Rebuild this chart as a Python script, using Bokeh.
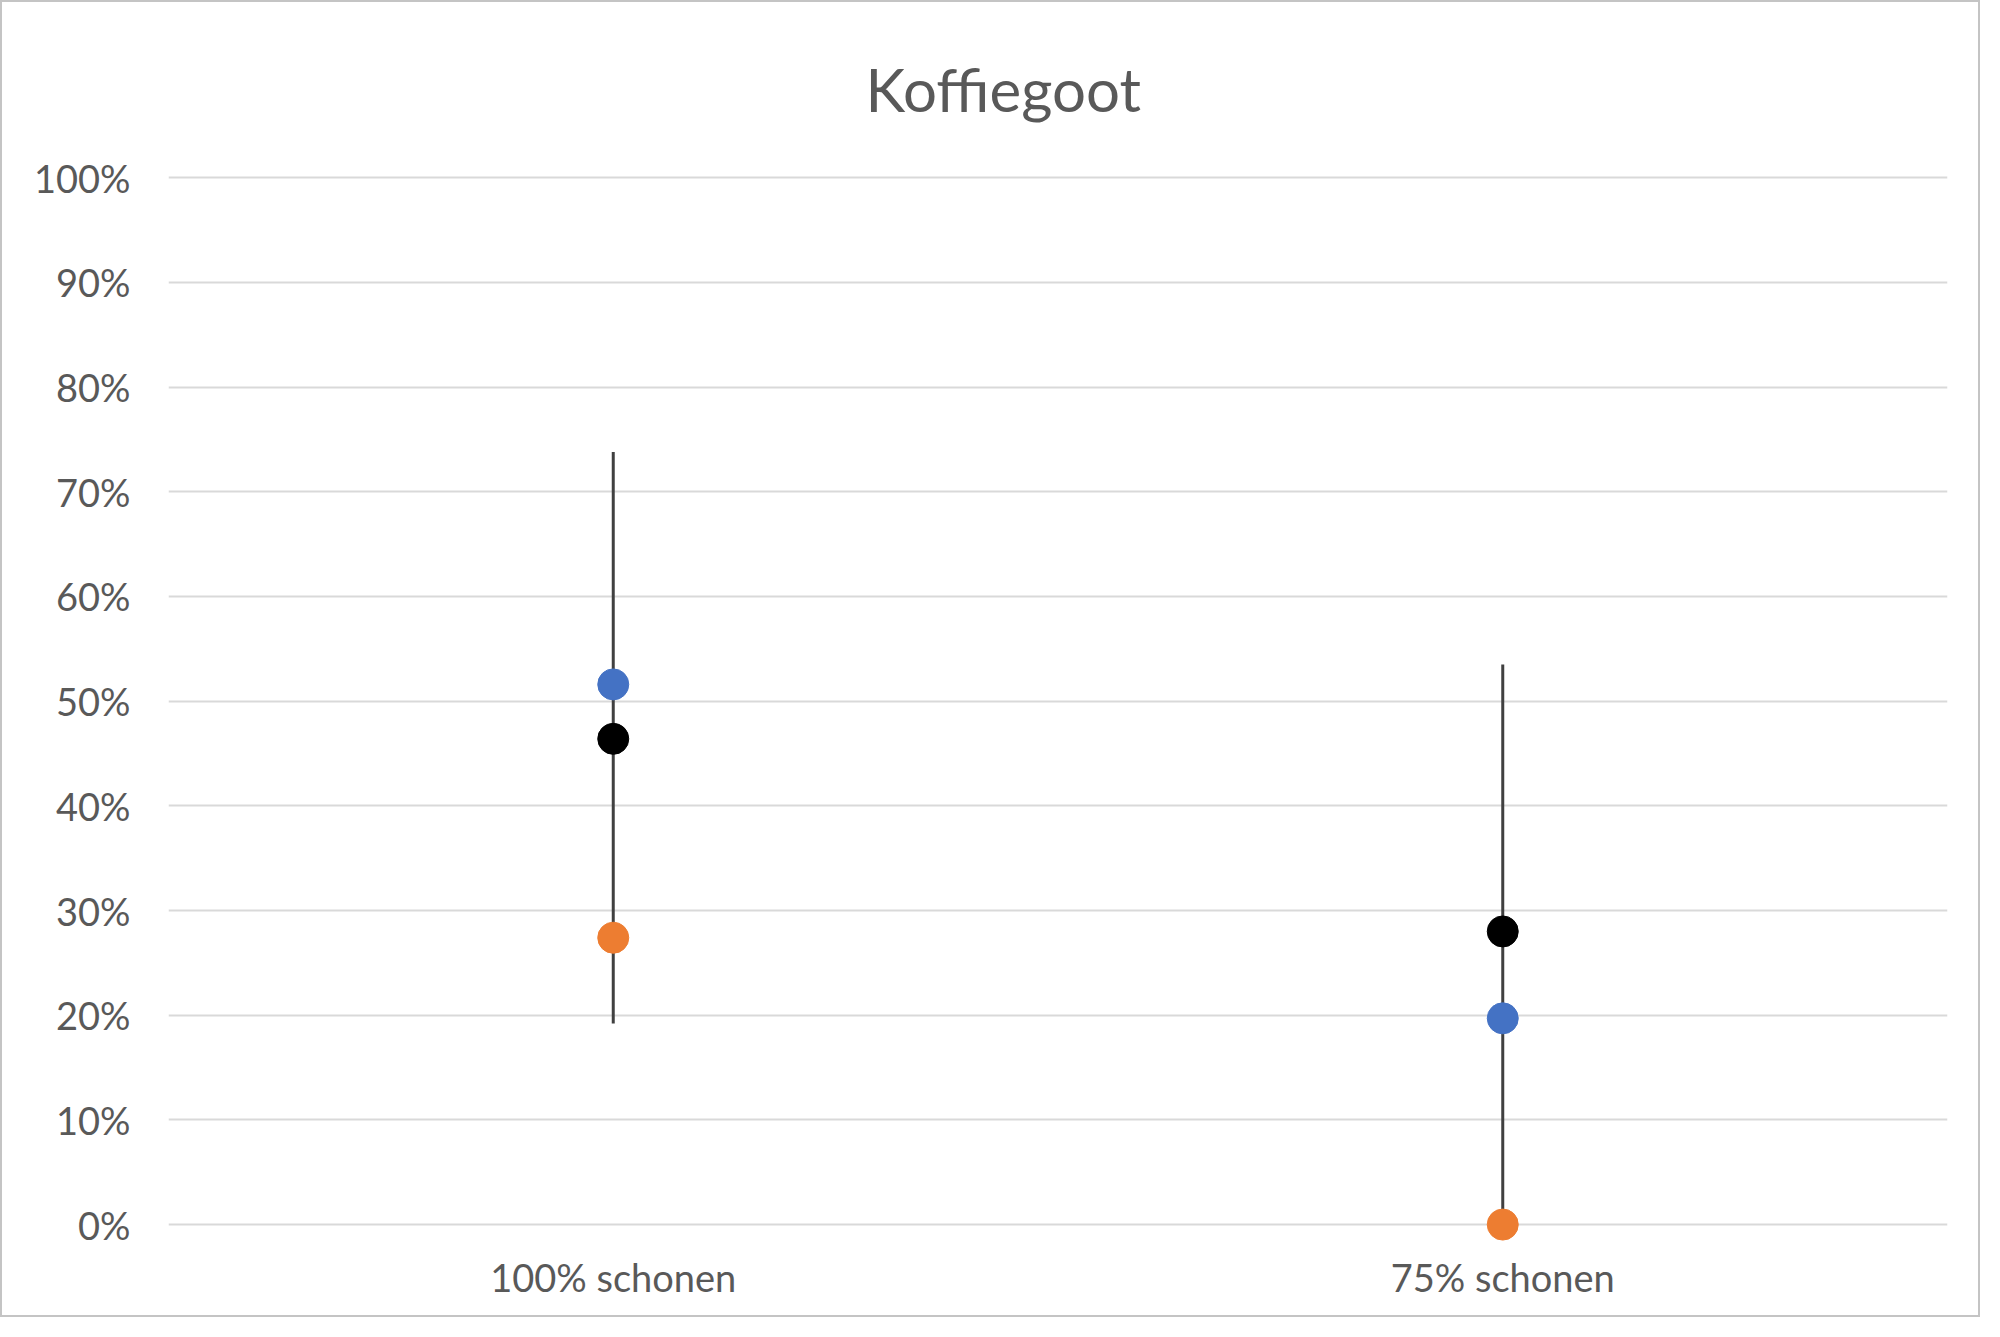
from bokeh.plotting import figure
from bokeh.models import FactorRange, Range1d, FixedTicker, NumeralTickFormatter, Title
from bokeh.embed import file_html
from bokeh.resources import INLINE

# Data
categories = ["100% schonen", "75% schonen"]
blue_vals = [0.516, 0.197]
orange_vals = [0.274, 0.0]
mean_vals = [0.464, 0.280]
err_low = [0.192, 0.0]
err_high = [0.738, 0.535]
y_ticks = [0.0, 0.1, 0.2, 0.3, 0.4, 0.5, 0.6, 0.7, 0.8, 0.9, 1.0]

FONT = "Lato"
GREY_TEXT = "#595959"

p = figure(
    x_range=FactorRange(*categories, range_padding=0),
    y_range=Range1d(-0.02, 1.005),
    width=1980, height=1317,
    output_backend="svg", toolbar_location=None,
    min_border_left=166, min_border_right=35,
    min_border_top=170, min_border_bottom=74,
)
p.title = None
title = Title(text="Koffiegoot", align="left", offset=697, text_font=FONT,
              text_font_size="60px", text_font_style="normal",
              text_color=GREY_TEXT, standoff=95)
p.add_layout(title, "above")

p.outline_line_color = None
# light grey border round the whole chart
p.styles = {"border": "2px solid #c4c4c4"}

# error bars
p.segment(x0=categories, y0=err_low, x1=categories, y1=err_high,
          line_color="#404040", line_width=3)

# points
p.scatter(categories, blue_vals, size=31, color="#4472C4")
p.scatter(categories, orange_vals, size=31, color="#ED7D31")
p.scatter(categories, mean_vals, size=31, color="black")

# axes
p.yaxis.ticker = FixedTicker(ticks=y_ticks)
p.yaxis.formatter = NumeralTickFormatter(format="0%")
for ax in (p.xaxis, p.yaxis):
    ax.axis_line_color = None
    ax.major_tick_line_color = None
    ax.minor_tick_line_color = None
    ax.major_label_text_font = FONT
    ax.major_label_text_font_size = "38px"
    ax.major_label_text_color = GREY_TEXT
p.yaxis.major_label_standoff = 32
p.xaxis.major_label_standoff = 2

p.xgrid.grid_line_color = None
p.ygrid.ticker = FixedTicker(ticks=y_ticks)
p.ygrid.grid_line_color = "#d9d9d9"
p.ygrid.grid_line_width = 2

open("out.html", "w").write(file_html(p, INLINE))
